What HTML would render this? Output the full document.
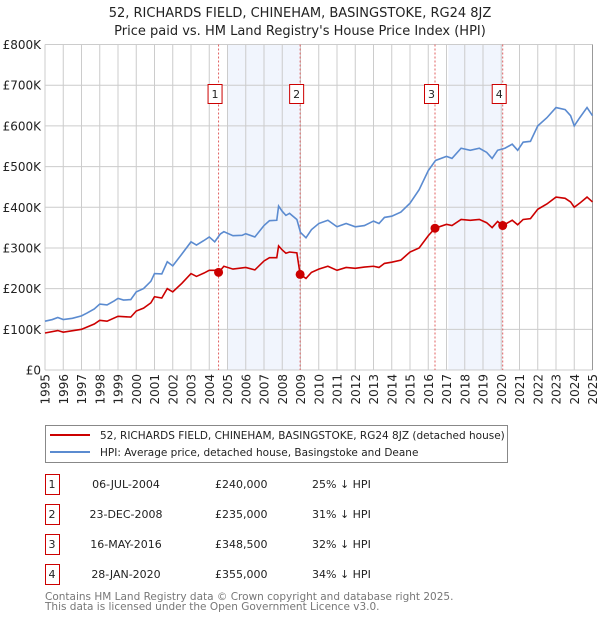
<!DOCTYPE html>
<html><head><meta charset="utf-8"><style>
body{margin:0;background:#fff;font-family:"Liberation Sans","DejaVu Sans",sans-serif;}
svg text{font-family:"DejaVu Sans","Liberation Sans",sans-serif;}
</style></head><body>
<svg id="chart" width="600" height="620" viewBox="0 0 600 620" xmlns="http://www.w3.org/2000/svg">
<text x="300" y="17" text-anchor="middle" font-size="13" fill="#222">52, RICHARDS FIELD, CHINEHAM, BASINGSTOKE, RG24 8JZ</text>
<text x="300" y="35" text-anchor="middle" font-size="13" fill="#222">Price paid vs. HM Land Registry's House Price Index (HPI)</text>
<g id="plot"></g>
<g>
<rect x="45.5" y="425.5" width="462" height="37" fill="#fff" stroke="#888"/>
<line x1="50" y1="435" x2="90" y2="435" stroke="#cc0000" stroke-width="2"/>
<text x="100" y="439" font-size="10.5" fill="#222">52, RICHARDS FIELD, CHINEHAM, BASINGSTOKE, RG24 8JZ (detached house)</text>
<line x1="50" y1="452" x2="90" y2="452" stroke="#5b8bd0" stroke-width="2"/>
<text x="100" y="456" font-size="10.5" fill="#222">HPI: Average price, detached house, Basingstoke and Deane</text>
</g>
<g id="table" font-size="11" fill="#222"></g>
<text x="45" y="600" font-size="10.5" fill="#777">Contains HM Land Registry data © Crown copyright and database right 2025.</text>
<text x="45" y="610" font-size="10.5" fill="#777">This data is licensed under the Open Government Licence v3.0.</text>
</svg>
<script>
const yTicks=[0,100,200,300,400,500,600,700,800];
const yTickLabels=["£0","£100K","£200K","£300K","£400K","£500K","£600K","£700K","£800K"];
const xTicks=[1995,1996,1997,1998,1999,2000,2001,2002,2003,2004,2005,2006,2007,2008,2009,2010,2011,2012,2013,2014,2015,2016,2017,2018,2019,2020,2021,2022,2023,2024,2025];
const hpiYears=[1995.0,1995.4,1995.7,1996.0,1996.5,1997.0,1997.3,1997.7,1998.0,1998.4,1998.8,1999.0,1999.3,1999.7,2000.0,2000.4,2000.8,2001.0,2001.4,2001.7,2002.0,2002.5,2003.0,2003.3,2003.7,2004.0,2004.3,2004.6,2004.8,2005.3,2005.8,2006.0,2006.5,2007.0,2007.3,2007.7,2007.8,2008.0,2008.2,2008.4,2008.8,2009.0,2009.3,2009.6,2010.0,2010.5,2011.0,2011.5,2012.0,2012.5,2013.0,2013.3,2013.6,2014.0,2014.5,2015.0,2015.5,2016.0,2016.4,2017.0,2017.3,2017.8,2018.3,2018.8,2019.2,2019.5,2019.8,2020.2,2020.6,2020.9,2021.2,2021.6,2022.0,2022.5,2023.0,2023.5,2023.8,2024.0,2024.3,2024.7,2025.0];
const hpiValues=[120,124,129,124,127,133,140,150,162,160,170,176,172,173,192,200,218,237,236,266,256,285,315,307,318,327,315,334,340,330,331,335,327,355,367,368,403,390,380,385,370,338,325,345,360,368,352,360,352,355,366,360,375,378,388,410,443,490,515,525,520,545,540,545,535,520,540,545,555,540,560,562,600,620,645,640,625,600,620,645,625];
const redYears=[1995.0,1995.7,1996.0,1997.0,1997.7,1998.0,1998.4,1999.0,1999.7,2000.0,2000.4,2000.8,2001.0,2001.4,2001.7,2002.0,2002.5,2003.0,2003.3,2003.7,2004.0,2004.3,2004.52,2004.8,2005.3,2006.0,2006.5,2007.0,2007.3,2007.7,2007.8,2008.0,2008.2,2008.4,2008.8,2008.98,2009.3,2009.6,2010.0,2010.5,2011.0,2011.5,2012.0,2012.5,2013.0,2013.3,2013.6,2014.0,2014.5,2015.0,2015.5,2016.0,2016.37,2017.0,2017.3,2017.8,2018.3,2018.8,2019.2,2019.5,2019.8,2020.08,2020.6,2020.9,2021.2,2021.6,2022.0,2022.5,2023.0,2023.5,2023.8,2024.0,2024.3,2024.7,2025.0];
const redValues=[91,97,93,100,113,122,120,132,130,145,152,165,180,177,200,192,213,237,230,238,245,245,240,255,248,252,246,268,276,276,305,295,287,290,288,235,225,240,248,255,245,252,250,253,255,252,262,265,270,290,300,330,348.5,358,355,370,368,370,362,350,365,355,368,357,370,372,395,408,425,422,413,400,410,425,413];
const saleLabels=["1","2","3","4"];
const saleYears=[2004.51,2008.98,2016.37,2020.08];
const saleValues=[240,235,348.5,355];
const saleDates=["06-JUL-2004","23-DEC-2008","16-MAY-2016","28-JAN-2020"];
const salePrices=["£240,000","£235,000","£348,500","£355,000"];
const saleDiffs=["25% ↓ HPI","31% ↓ HPI","32% ↓ HPI","34% ↓ HPI"];
const shadeStart=[2005.0,2017.1];
const shadeEnd=[2009.0,2020.08];

const NS="http://www.w3.org/2000/svg";
const X0=45,X1=592.5,Y0=370,Y1=44.5;
const xs=y=>X0+(y-1995)/30*(X1-X0);
const ys=v=>Y0-v/800*(Y0-Y1);
const plot=document.getElementById('plot');
function mk(tag,attrs,parent){const e=document.createElementNS(NS,tag);for(const k in attrs)e.setAttribute(k,attrs[k]);(parent||plot).appendChild(e);return e;}
for(let i=0;i<shadeStart.length;i++){
 const r=mk('rect',{x:xs(shadeStart[i]),y:Y1,width:xs(shadeEnd[i])-xs(shadeStart[i]),height:Y0-Y1,fill:'#f1f5fd'});
 
 
}
xTicks.forEach(t=>{
 const l=mk('line',{x1:xs(t),x2:xs(t),y1:Y1,y2:Y0,stroke:'#cccccc','stroke-width':1});
 
 
 const x=xs(t);
 const tx=mk('text',{x:0,y:0,transform:`translate(${x+4.5},374) rotate(-90)`,'text-anchor':'end','font-size':12,fill:'#222'});
 tx.textContent=t;
 
 
});
yTicks.forEach((t,i)=>{
 const l=mk('line',{x1:X0,x2:X1,y1:ys(t),y2:ys(t),stroke:'#cccccc','stroke-width':1});
 
 
 const tx=mk('text',{x:41,y:ys(t)+4.5,'text-anchor':'end','font-size':12,fill:'#222'});
 tx.textContent=yTickLabels[i];
 
 
});
const rb=mk('line',{x1:X1,x2:X1,y1:Y1,y2:Y0,stroke:'#999','stroke-width':1});


saleYears.forEach((y,i)=>{
 const l=mk('line',{x1:xs(y),x2:xs(y),y1:Y1,y2:Y0,stroke:'#e06060','stroke-width':1,'stroke-dasharray':'2,2'});
 
 
 const b=mk('rect',{x:xs(y)-10.5,y:84.5,width:14,height:19,fill:'#fff',stroke:'#cc0000'});
 
 
 const t=mk('text',{x:xs(y)-3.5,y:98,'text-anchor':'middle','font-size':11,fill:'#222'});
 t.textContent=saleLabels[i];
 
 
});
const hp=mk('polyline',{points:hpiYears.map((y,i)=>xs(y)+','+ys(hpiValues[i])).join(' '),fill:'none',stroke:'#5b8bd0','stroke-width':1.6});


const rp=mk('polyline',{points:redYears.map((y,i)=>xs(y)+','+ys(redValues[i])).join(' '),fill:'none',stroke:'#cc0000','stroke-width':1.6});


saleYears.forEach((y,i)=>{
 const c=mk('circle',{cx:xs(y),cy:ys(saleValues[i]),r:4.5,fill:'#cc0000'});
 
 
});
const tb=document.getElementById('table');
saleLabels.forEach((s,i)=>{
 const cy=485+i*30;
 const b=mk('rect',{x:45.5,y:cy-10.5,width:14,height:20,fill:'#fff',stroke:'#cc0000'},tb);
 
 
 const cols=[[52,s,'middle'],[126,saleDates[i],'middle'],[215,salePrices[i],'start'],[312,saleDiffs[i],'start']];
 cols.forEach(([x,txt,a],j)=>{
  const t=mk('text',{x:x,y:cy+3,'text-anchor':a},tb);
  t.textContent=txt;
  
  
 });
});
</script>
</body></html>
